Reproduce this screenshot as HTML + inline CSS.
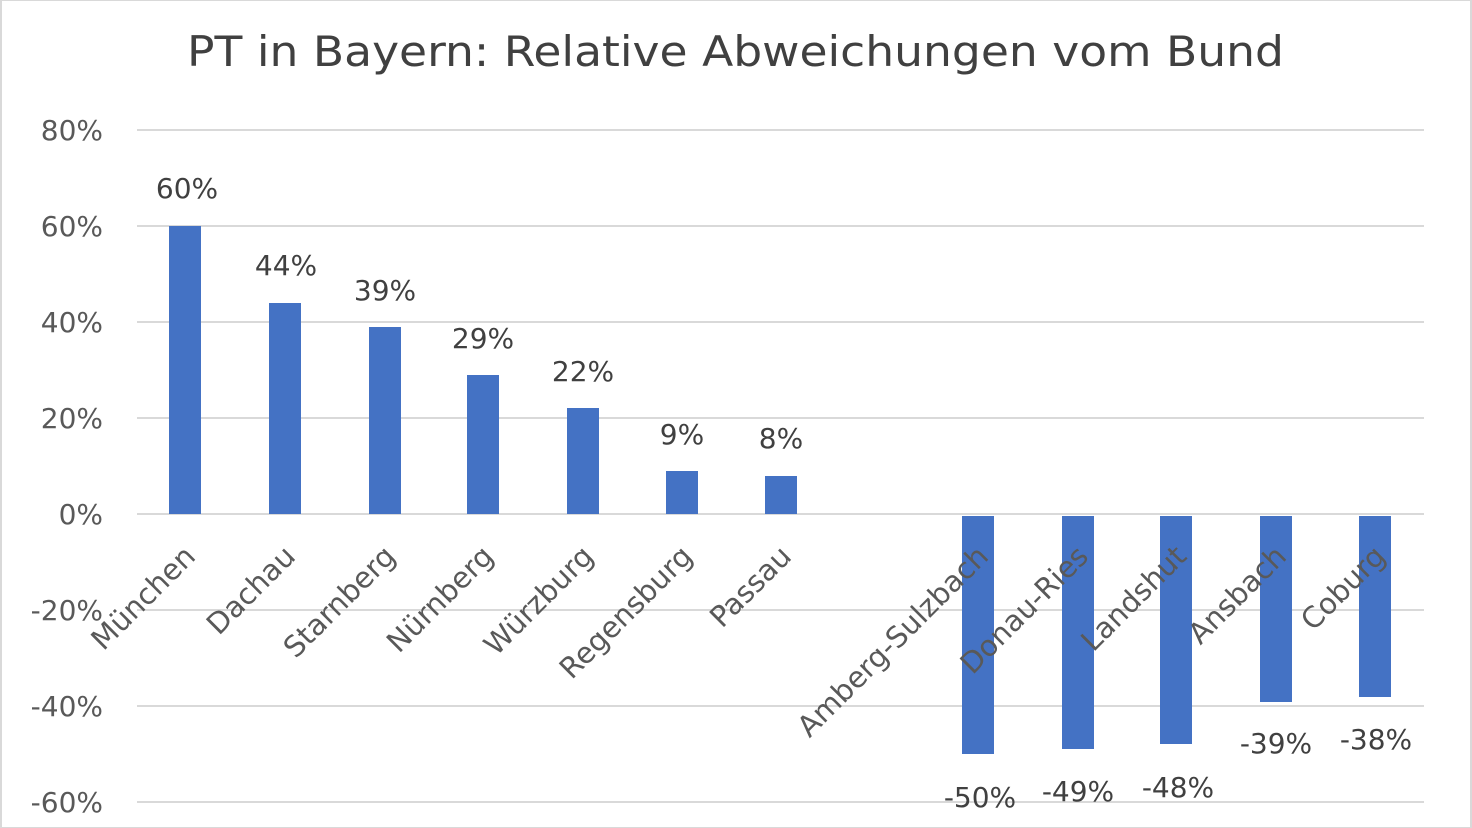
<!DOCTYPE html>
<html><head><meta charset="utf-8"><style>body{margin:0;background:#fff}svg{display:block}</style></head><body>
<svg width="1472" height="828" xmlns="http://www.w3.org/2000/svg" font-family="DejaVu Sans, Liberation Sans, sans-serif">
<rect x="0" y="0" width="1472" height="828" fill="#fff"/>
<rect x="1" y="0" width="1470" height="828" fill="none" stroke="#d9d9d9" stroke-width="2"/>
<text x="187" y="66" font-size="42" fill="#404040" textLength="1097" lengthAdjust="spacingAndGlyphs">PT in Bayern: Relative Abweichungen vom Bund</text>
<g stroke="#d9d9d9" stroke-width="2">
<line x1="137" x2="1424" y1="130" y2="130"/><line x1="137" x2="1424" y1="226" y2="226"/>
<line x1="137" x2="1424" y1="322" y2="322"/><line x1="137" x2="1424" y1="418" y2="418"/>
<line x1="137" x2="1424" y1="514" y2="514"/><line x1="137" x2="1424" y1="610" y2="610"/>
<line x1="137" x2="1424" y1="706" y2="706"/><line x1="137" x2="1424" y1="802" y2="802"/>
</g>
<g font-size="28" fill="#595959" text-anchor="end">
<text x="103" y="140">80%</text><text x="103" y="236">60%</text><text x="103" y="332">40%</text>
<text x="103" y="428">20%</text><text x="103" y="524">0%</text><text x="103" y="620">-20%</text>
<text x="103" y="716">-40%</text><text x="103" y="812">-60%</text>
</g>
<g fill="#4472c4">
<rect x="169" y="226" width="32" height="288"/>
<rect x="269" y="303" width="32" height="211"/>
<rect x="369" y="327" width="32" height="187"/>
<rect x="467" y="375" width="32" height="139"/>
<rect x="567" y="408" width="32" height="106"/>
<rect x="666" y="471" width="32" height="43"/>
<rect x="765" y="476" width="32" height="38"/>
<rect x="962" y="516" width="32" height="238"/>
<rect x="1062" y="516" width="32" height="233"/>
<rect x="1160" y="516" width="32" height="228"/>
<rect x="1260" y="516" width="32" height="186"/>
<rect x="1359" y="516" width="32" height="181"/>
</g>
<g font-size="28" fill="#404040" text-anchor="middle">
<text x="187" y="198">60%</text><text x="286" y="275">44%</text><text x="385" y="300">39%</text>
<text x="483" y="348">29%</text><text x="583" y="381">22%</text><text x="682" y="444">9%</text>
<text x="781" y="448">8%</text>
<text x="980" y="807">-50%</text><text x="1078" y="801">-49%</text><text x="1178" y="797">-48%</text>
<text x="1276" y="753">-39%</text><text x="1376" y="749">-38%</text>
</g>
<g font-size="29" fill="#595959" text-anchor="end">
<text transform="translate(197,558) rotate(-45)">München</text>
<text transform="translate(297,558) rotate(-45)">Dachau</text>
<text transform="translate(397,558) rotate(-45)">Starnberg</text>
<text transform="translate(495,558) rotate(-45)">Nürnberg</text>
<text transform="translate(595,558) rotate(-45)">Würzburg</text>
<text transform="translate(694,558) rotate(-45)">Regensburg</text>
<text transform="translate(793,558) rotate(-45)">Passau</text>
<text transform="translate(990,558) rotate(-45)">Amberg-Sulzbach</text>
<text transform="translate(1090,558) rotate(-45)">Donau-Ries</text>
<text transform="translate(1188,558) rotate(-45)">Landshut</text>
<text transform="translate(1288,558) rotate(-45)">Ansbach</text>
<text transform="translate(1387,558) rotate(-45)">Coburg</text>
</g>
</svg>
</body></html>
